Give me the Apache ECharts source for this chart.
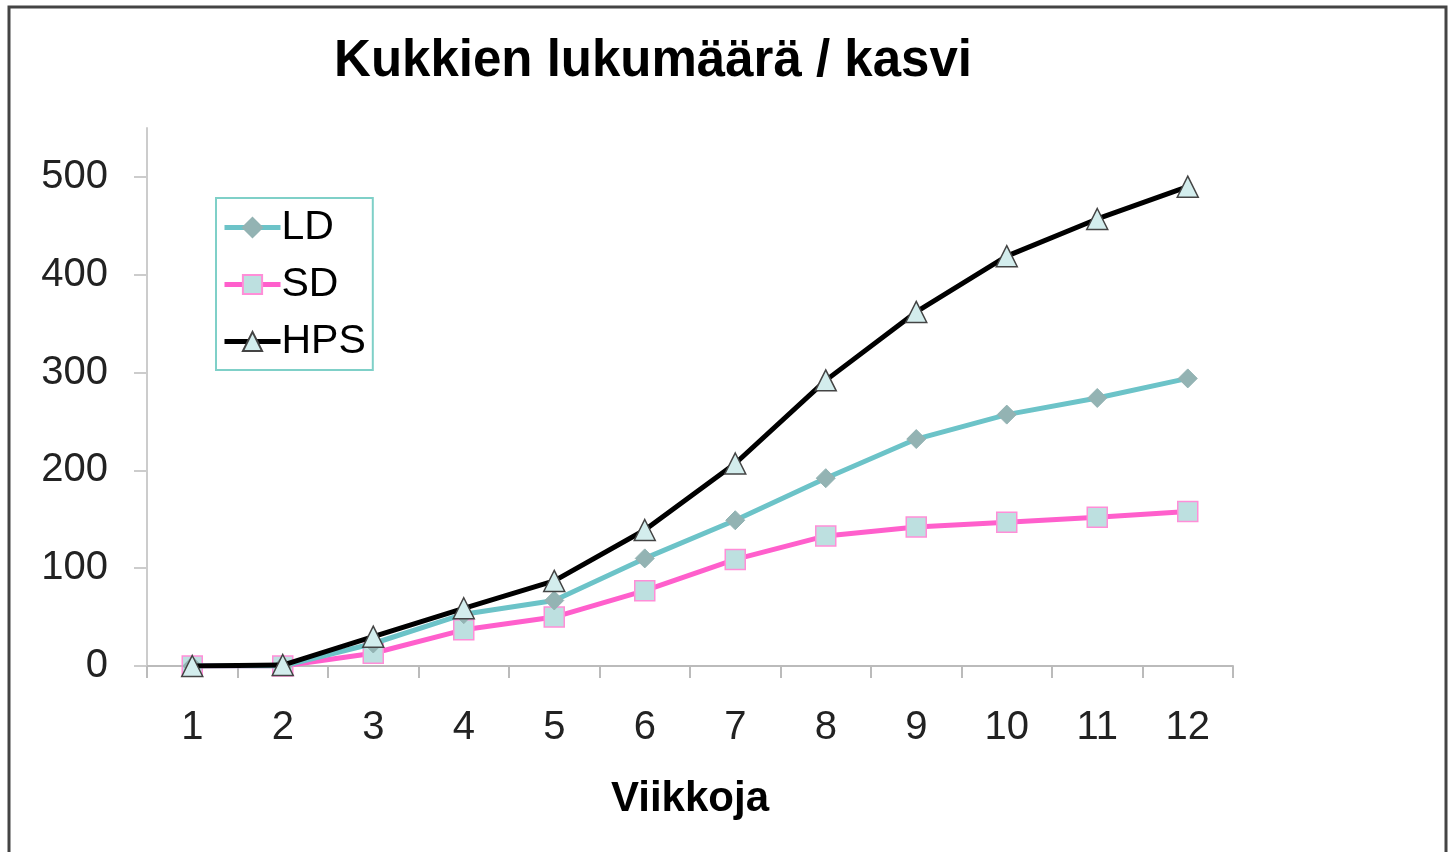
<!DOCTYPE html>
<html>
<head>
<meta charset="utf-8">
<script src="https://cdn.jsdelivr.net/npm/echarts@6/dist/echarts.min.js"></script>
<style>
  html, body { margin: 0; padding: 0; background: #fff; }
  #chart { width: 1452px; height: 852px; }
</style>
</head>
<body>
<div id="chart"></div>
<script>
// data
var weeks = ['1', '2', '3', '4', '5', '6', '7', '8', '9', '10', '11', '12'];
var ldValues = [0, 0, 23, 53, 67, 110, 149, 192, 232, 257, 274, 294];
var sdValues = [0, 0, 13, 37, 50, 77, 109, 133, 142, 147, 152, 158];
var hpsValues = [0, 1, 30, 59, 87, 139, 207, 292, 362, 419, 457, 490];
var yTicks = [0, 100, 200, 300, 400, 500];

var font = 'Liberation Sans, Arial, sans-serif';

var myChart = echarts.init(document.getElementById('chart'));
var option = {
    backgroundColor: '#fff',
    animation: false,
    textStyle: { fontFamily: font },
    title: {
        text: 'Kukkien lukumäärä / kasvi',
        left: 648,
        textAlign: 'center',
        top: 31,
        textStyle: { fontSize: 51, fontWeight: 'bold', color: '#000', fontFamily: font }
    },
    graphic: [{
        type: 'rect',
        shape: { x: 9, y: 7, width: 1437, height: 900 },
        style: { fill: 'none', stroke: '#444', lineWidth: 3 },
        silent: true
    }],
    legend: {
        orient: 'vertical',
        left: 216,
        top: 198,
        padding: [9, 7, 8, 6],
        borderColor: '#7fd0c8',
        borderWidth: 2,
        itemWidth: 56,
        itemHeight: 24,
        itemGap: 16,
        lineStyle: { width: 5 },
        textStyle: { fontSize: 41, color: '#000', fontFamily: font, padding: [0, 0, 0, -4] },
        data: ['LD', 'SD', 'HPS']
    },
    grid: {
        left: 147,
        right: 219,
        top: 128,
        bottom: 186,
        containLabel: false
    },
    xAxis: {
        type: 'category',
        data: weeks,
        boundaryGap: true,
        name: 'Viikkoja',
        nameLocation: 'middle',
        nameGap: 112,
        nameTextStyle: { fontSize: 42, fontWeight: 'bold', color: '#000', fontFamily: font },
        axisLine: { lineStyle: { color: '#bbb', width: 2 } },
        axisTick: { show: true, length: 12, lineStyle: { color: '#bbb', width: 2 } },
        axisLabel: { fontSize: 40, color: '#222', margin: 42, fontFamily: font }
    },
    yAxis: {
        type: 'value',
        min: 0,
        max: 550,
        interval: 100,
        axisLine: { show: true, lineStyle: { color: '#ccc', width: 2 } },
        axisTick: { show: true, length: 13, customValues: yTicks, lineStyle: { color: '#ccc', width: 2 } },
        axisLabel: { fontSize: 40, color: '#222', margin: 39, customValues: yTicks, fontFamily: font },
        splitLine: { show: false }
    },
    series: [
        {
            name: 'LD',
            type: 'line',
            data: ldValues,
            symbol: 'diamond',
            symbolSize: 19,
            lineStyle: { color: '#6cc3c8', width: 5 },
            itemStyle: { color: '#93b3b3', borderColor: '#93b3b3', borderWidth: 1 },
            z: 3
        },
        {
            name: 'SD',
            type: 'line',
            data: sdValues,
            symbol: 'rect',
            symbolSize: 20,
            lineStyle: { color: '#ff5fcc', width: 5 },
            itemStyle: { color: '#bde0e0', borderColor: '#ff8ed8', borderWidth: 1.5 },
            z: 2
        },
        {
            name: 'HPS',
            type: 'line',
            data: hpsValues,
            symbol: 'triangle',
            symbolSize: 21,
            lineStyle: { color: '#000', width: 5 },
            itemStyle: { color: '#d3eded', borderColor: '#444', borderWidth: 1.5 },
            z: 4
        }
    ]
};
myChart.setOption(option);
</script>
</body>
</html>
